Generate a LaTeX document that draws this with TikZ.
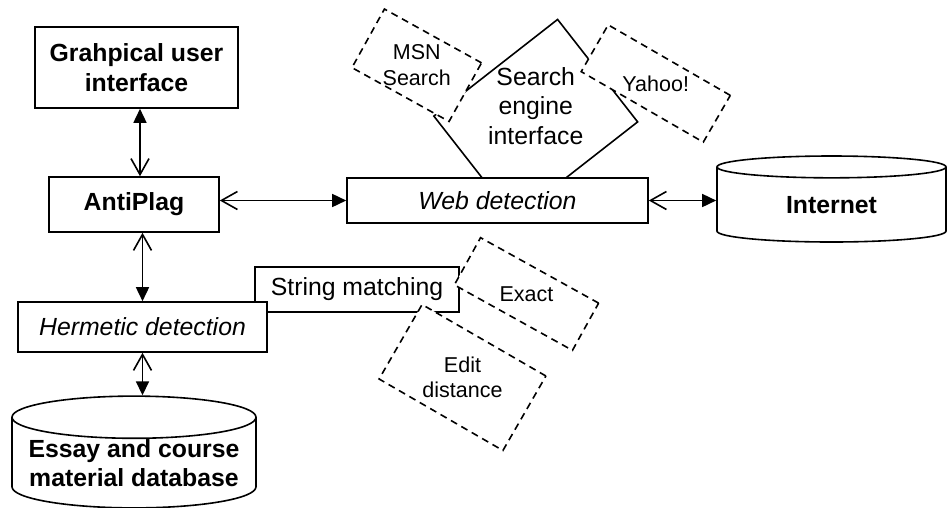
\documentclass[tikz,border=0pt]{standalone}
\usepackage{fontspec}
\setmainfont{Liberation Sans}
\usetikzlibrary{arrows.meta,shapes.geometric}

\begin{document}
\begin{tikzpicture}[
    x=1pt, y=-1pt,
    font={\fontsize{24.8}{29.5}\selectfont},
    line width=1.6pt,
    box/.style={draw,fill=white,inner sep=0pt,align=center},
    title/.style={font={\fontsize{24.8}{29.5}\selectfont\bfseries}},
    method/.style={font={\fontsize{24.8}{29.5}\selectfont\itshape}},
    engine/.style={draw,dash pattern=on 7pt off 5pt,fill=white,inner sep=0pt},
    note/.style={align=center,font={\fontsize{21.5}{25.5}\selectfont}},
    store/.style={cylinder,shape border rotate=90,anchor=shape center,draw,fill=white,align=center,inner sep=0pt,title},
    link/.style={{Straight Barb[length=16pt,width=18pt]}-{Triangle[length=14pt,width=13pt]}},
]

    \useasboundingbox (0,0) rectangle (948,507);

    \node[box,rotate=38,minimum width=157pt,minimum height=130pt] (search) at (535.75,119) {};
    \node[engine,rotate=-29,minimum width=111pt,minimum height=67pt] (msn) at (416.75,65.25) {};
    \node[engine,rotate=-30,minimum width=141pt,minimum height=54pt] (yahoo) at (655.75,83.5) {};
    \node[box,method,minimum width=301pt,minimum height=45pt] (web) at (497.5,200.5) {Web detection};
    \node[align=center] (searchtext) at ([yshift=13pt]search.center) {Search\\engine\\interface};
    \node[note] (msntext) at (msn) {MSN\\Search};
    \node[note] (yahootext) at (yahoo) {Yahoo!};

    \node[box,title,minimum width=203pt,minimum height=81pt] (gui) at (136.5,67.5) {Grahpical user\\interface};
    \node[box,title,minimum width=170pt,minimum height=55pt] (antiplag) at (134,204.5) {AntiPlag};
    \node[store,aspect=0.24,minimum width=229pt,minimum height=86pt] (internet) at (831.5,199) {Internet};

    \node[box,minimum width=204pt,minimum height=45pt] (strmatch) at (357,289.5) {String matching};
    \node[box,method,minimum width=249pt,minimum height=50pt] (hermetic) at (142.5,327) {Hermetic detection};
    \node[engine,rotate=-29,minimum width=135pt,minimum height=54pt] (exact) at (526.5,294) {};
    \node[engine,rotate=-30,minimum width=143pt,minimum height=86pt] (edit) at (462.5,377.5) {};
    \node[note] (exacttext) at (exact) {Exact};
    \node[note] (edittext) at (edit) {Edit\\distance};
    \node[store,aspect=0.2,minimum width=244pt,minimum height=108pt] (essaydb) at (134,452) {Essay and course\\material database};

    \draw[link] ([xshift=6pt]antiplag.north) -- ([xshift=6pt]antiplag.north |- gui.south);
    \draw[link] (antiplag.east |- web.west) -- (web.west);
    \draw[link] (web.east) -- (web.east -| internet.west);
    \draw[link] (hermetic.north |- antiplag.south) -- (hermetic.north);
    \draw[link] (hermetic.south) -- (hermetic.south |- essaydb.north);

\end{tikzpicture}
\end{document}
